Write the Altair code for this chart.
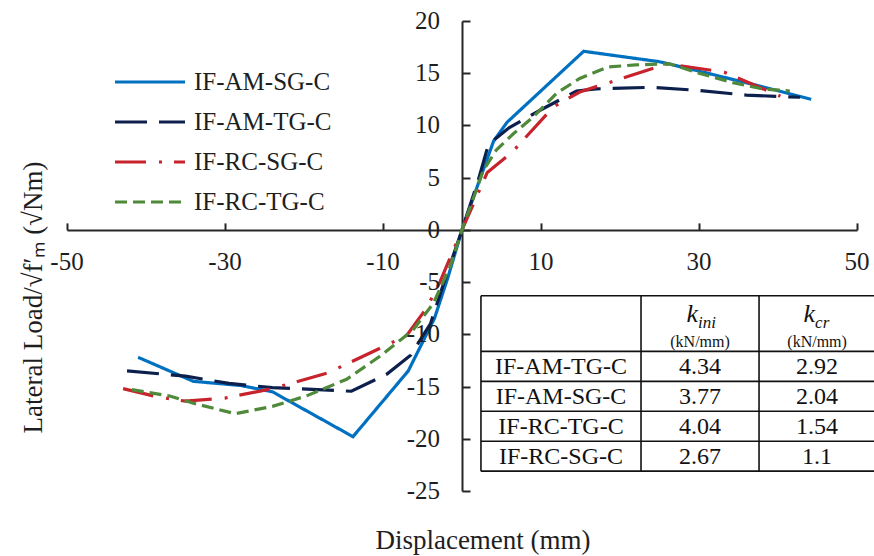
import altair as alt
import pandas as pd

# ---------------- data ----------------
SERIES = ["IF-AM-SG-C", "IF-AM-TG-C", "IF-RC-SG-C", "IF-RC-TG-C"]
COLORS = ["#0070C0", "#0C1F4D", "#C8232C", "#4F8A3A"]
DASHES = [[1, 0], [32, 12], [31, 13, 3, 12], [12, 6]]

AM_SG_X = [-41.0, -34.0, -28.0, -24.0, -13.8, -6.8, -3.5, -1.8, 0, 2.0, 4.0, 5.7, 15.4, 25.0, 30.0, 37.0, 44.2]
AM_SG_Y = [-12.2, -14.5, -14.9, -15.5, -19.8, -13.5, -8.5, -4.6, 0, 4.3, 8.5, 10.3, 17.1, 16.1, 15.2, 13.9, 12.5]

AM_TG_X = [-42.4, -35.0, -29.5, -24.0, -14.0, -9.5, -6.5, -4.0, -2.4, 0, 2.0, 3.2, 4.2, 6.0, 10.0, 14.5, 17.0, 24.0, 30.0, 36.0, 42.8]
AM_TG_Y = [-13.5, -14.0, -14.7, -15.1, -15.45, -13.8, -12.0, -9.0, -5.3, 0, 4.6, 7.8, 8.7, 9.8, 11.5, 13.3, 13.5, 13.65, 13.35, 12.9, 12.7]

RC_SG_X = [-42.9, -38.5, -35.0, -30.0, -24.0, -17.0, -10.0, -7.0, -4.5, -2.8, 0, 3.2, 6.3, 11.6, 14.9, 26.0, 33.2, 40.3]
RC_SG_Y = [-15.2, -16.0, -16.4, -16.1, -15.2, -13.7, -11.2, -10.1, -7.5, -5.0, 0, 5.5, 7.4, 11.8, 13.2, 15.9, 15.1, 12.8]

RC_TG_X = [-41.8, -37.0, -34.0, -28.7, -24.0, -19.7, -14.6, -10.4, -6.2, -3.6, -1.5, 0, 2.7, 4.4, 6.5, 9.0, 12.0, 14.9, 18.5, 22.0, 26.3, 30.0, 34.3, 38.0, 41.5]
RC_TG_Y = [-15.3, -15.9, -16.6, -17.6, -16.9, -15.9, -14.3, -12.1, -9.6, -7.0, -3.5, 0, 5.7, 7.7, 9.2, 10.8, 13.1, 14.5, 15.6, 15.8, 15.9, 15.0, 14.1, 13.5, 13.3]

X_TICKS = [-50, -30, -10, 10, 30, 50]
Y_TICKS = [20, 15, 10, 5, 0, -5, -10, -15, -20, -25]

TABLE_NAMES = ["IF-AM-TG-C", "IF-AM-SG-C", "IF-RC-TG-C", "IF-RC-SG-C"]
K_INI = ["4.34", "3.77", "4.04", "2.67"]
K_CR = ["2.92", "2.04", "1.54", "1.1"]
HEADER_SUBS = ["ini", "cr"]
HEADER_UNIT = "(kN/mm)"

# ---------------- layout / style ----------------
W, H = 790, 470
XMIN, XMAX, YMIN, YMAX = -50, 50, -25, 20
FONT = "Liberation Serif"
TXT = "#1e1e1e"
AX = "#262626"

# table grid in axis units
TX = [2.4, 22.66, 37.6, 52.3]
TY = [-6.31, -11.63, -14.5, -17.37, -20.24, -23.1]

y0 = H * YMAX / (YMAX - YMIN)
x0 = W * (0 - XMIN) / (XMAX - XMIN)

xs = alt.Scale(domain=[XMIN, XMAX], nice=False, zero=False)
ys = alt.Scale(domain=[YMIN, YMAX], nice=False, zero=False)

rows = []
for name, xv, yv in zip(SERIES, [AM_SG_X, AM_TG_X, RC_SG_X, RC_TG_X], [AM_SG_Y, AM_TG_Y, RC_SG_Y, RC_TG_Y]):
    for i, (a, b) in enumerate(zip(xv, yv)):
        rows.append({"series": name, "x": a, "y": b, "i": i})
df = pd.DataFrame(rows)

legend = alt.Legend(
    orient="none", legendX=46, legendY=41, title=None,
    symbolType="stroke", symbolSize=4900, symbolStrokeWidth=3.2,
    labelFont=FONT, labelFontSize=25, labelColor=TXT, labelOffset=7,
    clipHeight=40, rowPadding=0, padding=0, labelLimit=400,
)

x_axis = alt.Axis(
    orient="top", offset=-y0, values=X_TICKS, labels=False, grid=False,
    domainColor=AX, domainWidth=2, tickColor=AX, tickWidth=2, tickSize=7,
    title="Displacement (mm)", titleFont=FONT, titleFontSize=27, titleFontWeight="normal",
    titleColor=TXT, titleX=415.5, titleY=H - y0 + 57, titleAlign="center",
    titleBaseline="alphabetic", titleAngle=0,
)
y_axis = alt.Axis(
    orient="right", offset=-(W - x0), values=Y_TICKS, labels=False, grid=False,
    domainColor=AX, domainWidth=2, tickColor=AX, tickWidth=2, tickSize=8,
    title="Lateral Load/√f′ₘ  (√Nm)", titleFont=FONT, titleFontSize=27, titleFontWeight="normal",
    titleColor=TXT, titleX=-(x0 + 34), titleY=412, titleAngle=270, titleAlign="left",
    titleBaseline="middle",
)


def X(field, **kw):
    return alt.X(field, scale=xs, axis=x_axis, **kw)


def Y(field, **kw):
    return alt.Y(field, scale=ys, axis=y_axis, **kw)


lines = alt.Chart(df).mark_line(strokeWidth=3.2, strokeCap="butt").encode(
    x=X("x:Q"),
    y=Y("y:Q"),
    color=alt.Color("series:N", scale=alt.Scale(domain=SERIES, range=COLORS), legend=legend),
    strokeDash=alt.StrokeDash("series:N", scale=alt.Scale(domain=SERIES, range=DASHES), legend=legend),
    order="i:Q",
)

# tick labels (placed at the zero lines)
xl = pd.DataFrame({"v": X_TICKS, "t": [str(v) for v in X_TICKS], "zero": [0] * len(X_TICKS)})
xlabels = alt.Chart(xl).mark_text(
    dy=40, baseline="alphabetic", align="center", font=FONT, fontSize=25, color=TXT
).encode(x=X("v:Q"), y=Y("zero:Q"), text="t:N")

yl = pd.DataFrame({"v": Y_TICKS, "t": [str(v) for v in Y_TICKS], "zero": [0] * len(Y_TICKS)})
ylabels = alt.Chart(yl).mark_text(
    dx=-22, baseline="middle", align="right", font=FONT, fontSize=25, color=TXT
).encode(y=Y("v:Q"), x=X("zero:Q"), text="t:N")

# table
tbg = alt.Chart(pd.DataFrame({"x0": [TX[0]], "x1": [TX[-1]], "y0": [TY[0]], "y1": [TY[-1]]})).mark_rect(
    fill="white"
).encode(x=X("x0:Q"), x2="x1:Q", y=Y("y0:Q"), y2="y1:Q")

hl = pd.DataFrame({"x0": [TX[0]] * len(TY), "x1": [TX[-1]] * len(TY), "y": TY})
hrules = alt.Chart(hl).mark_rule(color="#111111", strokeWidth=1.6).encode(
    x=X("x0:Q"), x2="x1:Q", y=Y("y:Q")
)
vl = pd.DataFrame({"x": TX, "y0": [TY[0]] * len(TX), "y1": [TY[-1]] * len(TX)})
vrules = alt.Chart(vl).mark_rule(color="#111111", strokeWidth=1.6).encode(
    x=X("x:Q"), y=Y("y0:Q"), y2="y1:Q"
)

cx = [(TX[k] + TX[k + 1]) / 2 for k in range(3)]
cy = [(TY[k + 1] + TY[k + 2]) / 2 for k in range(4)]
body_rows = []
for r in range(4):
    body_rows.append({"x": cx[0], "y": cy[r], "t": TABLE_NAMES[r]})
    body_rows.append({"x": cx[1], "y": cy[r], "t": K_INI[r]})
    body_rows.append({"x": cx[2], "y": cy[r], "t": K_CR[r]})
body = alt.Chart(pd.DataFrame(body_rows)).mark_text(
    baseline="middle", align="center", font=FONT, fontSize=24, color="#111111", dy=1
).encode(x=X("x:Q"), y=Y("y:Q"), text="t:N")

hy = (TY[0] + TY[1]) / 2
hdr = pd.DataFrame({"x": cx[1:], "y": [hy, hy], "k": ["k", "k"], "sub": HEADER_SUBS, "unit": [HEADER_UNIT] * 2})
hk = alt.Chart(hdr).mark_text(
    baseline="alphabetic", align="right", font=FONT, fontSize=26, fontStyle="italic", color="#111111", dx=-2, dy=-2
).encode(x=X("x:Q"), y=Y("y:Q"), text="k:N")
hs = alt.Chart(hdr).mark_text(
    baseline="alphabetic", align="left", font=FONT, fontSize=17, fontStyle="italic", color="#111111", dx=-2, dy=4
).encode(x=X("x:Q"), y=Y("y:Q"), text="sub:N")
hu = alt.Chart(hdr).mark_text(
    baseline="alphabetic", align="center", font=FONT, fontSize=16, color="#111111", dy=23
).encode(x=X("x:Q"), y=Y("y:Q"), text="unit:N")

chart = alt.layer(
    lines, xlabels, ylabels, tbg, hrules, vrules, body, hk, hs, hu
).properties(
    width=W, height=H,
    autosize=alt.AutoSizeParams(type="none"),
    padding={"left": 67, "top": 21, "right": 17, "bottom": 65},
    background="white",
).configure_view(stroke=None)

chart.save("out.html", embed_options={"renderer": "svg", "actions": False})
